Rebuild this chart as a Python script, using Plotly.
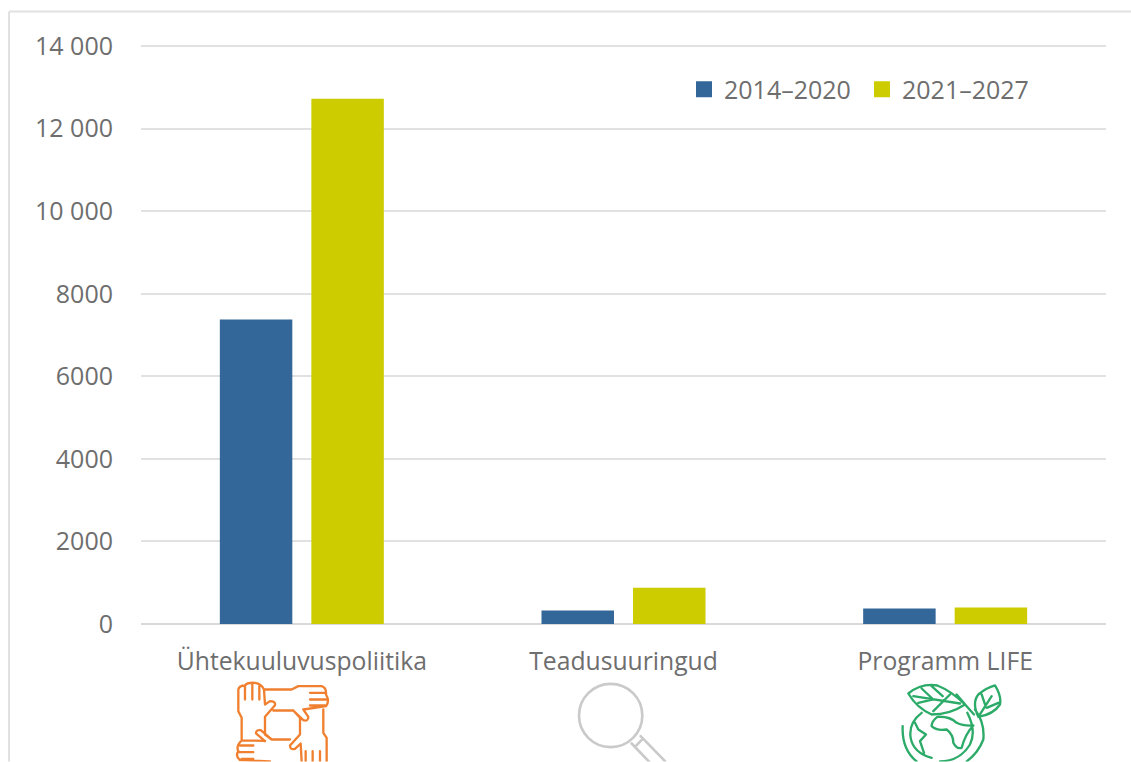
import base64
import plotly.graph_objects as go

categories = ["Ühtekuuluvuspoliitika", "Teadusuuringud", "Programm LIFE"]
series_names = ["2014–2020", "2021–2027"]
values_2014_2020 = [7375, 330, 375]
values_2021_2027 = [12725, 880, 400]
tick_values = [0, 2000, 4000, 6000, 8000, 10000, 12000, 14000]
tick_labels = ["0", "2000", "4000", "6000", "8000", "10 000", "12 000", "14 000"]
colors = ["#336699", "#CCCC00"]

W, H = 1131, 762
FONT = "Open Sans"
GREY = "#6E6E6E"
LINE = "#E1E1E1"

HANDS = """
M215 300L215 235L205 215L205 150Q208 138 225 138Q232 128 255 130Q275 133 282 150L285 195L300 185Q317 185 315 197L285 232L285 285L305 300
M225 140L225 180M247 132L247 180M268 140L268 180
M285 150L365 150L385 140L455 140Q470 145 468 165Q480 185 468 200L400 210L415 232Q415 247 400 242L370 213L310 213
M420 160L465 160M420 180L470 180M420 198L465 198
M460 210L460 280L470 295L470 366
M370 213L390 235L390 285L360 318Q360 332 375 328L392 312L395 366
M407 335L407 366M428 335L428 366M450 335L450 366
M305 300L360 300M285 305L258 282Q258 270 272 272L305 300
M285 304L215 303Q197 320 205 335Q195 350 210 362L300 366
M210 318L250 318M205 338L250 338M215 358L250 358
"""
GLOBE = """
M175 162Q215 130 262 138Q305 155 345 195Q300 225 245 225Q200 205 175 162Z
M190 170L330 192M215 147L250 180M205 190L250 180M250 215L300 165M245 140L278 170
M385 232Q365 190 385 165Q410 145 435 138Q455 170 450 195Q430 225 385 232Z
M385 232L425 170M395 165L405 195M410 205L445 190
M215 220Q175 250 182 295Q190 340 245 355
M270 366Q330 365 360 315Q380 275 352 220
M158 260Q155 330 200 366M375 210Q405 250 400 300Q385 340 350 366
M320 165L350 200L372 225
M262 232Q245 245 245 260Q260 275 290 270Q310 285 310 310Q320 330 335 325Q345 285 370 258Q340 260 320 250Q300 230 262 232Z
M195 250L205 270L228 285L210 305L222 340
"""
svg = f"""<svg xmlns="http://www.w3.org/2000/svg" width="{W}" height="{H}" viewBox="0 0 {W} {H}">
<g fill="none" stroke-linecap="round" stroke-linejoin="round" stroke-width="7">
<path transform="translate(170 640) scale(.3333)" stroke="#F08030" d="{HANDS}"/>
<g transform="translate(520 640) scale(.3333)" stroke="#CACACA" stroke-width="8">
<circle cx="272" cy="228" r="95"/><path d="M335 312L400 380M362 290L435 365M345 322L368 298"/></g>
<path transform="translate(850 640) scale(.3333)" stroke="#2BAA68" d="{GLOBE}"/>
</g></svg>"""
icon_uri = "data:image/svg+xml;base64," + base64.b64encode(svg.encode()).decode()

y_top = 14050  # just above the top tick so its gridline is kept
plot_l, plot_r, plot_b = 141, 1106, 624.5
plot_t = plot_b - 578 * y_top / 14000
plot_w, plot_h = plot_r - plot_l, plot_b - plot_t
px = lambda x: (x - plot_l) / plot_w
py = lambda y: (plot_b - y) / plot_h

fig = go.Figure()
for name, vals, col in zip(series_names, [values_2014_2020, values_2021_2027], colors):
    fig.add_bar(x=categories, y=vals, name=name, marker_color=col, marker_line_width=0,
                legendgroup=name, showlegend=False)
    # legend entry with the reference's larger square swatch
    fig.add_scatter(x=[None], y=[None], name=name, mode="markers", legendgroup=name,
                    marker=dict(symbol="square", size=16, color=col))

frame = dict(type="line", xref="paper", yref="paper", line=dict(color=LINE, width=2), layer="below")
fig.update_layout(
    width=W, height=H, autosize=False,
    margin=dict(l=plot_l, r=W - plot_r, t=plot_t, b=H - plot_b, pad=0),
    paper_bgcolor="white", plot_bgcolor="white",
    barmode="group", bargap=0.431, bargroupgap=0.208,
    font=dict(family=FONT, color=GREY, size=24.7),
    legend=dict(orientation="h", x=px(684), y=py(90), xanchor="left", yanchor="middle",
                font=dict(size=25, color=GREY), entrywidth=133, entrywidthmode="pixels",
                bgcolor="rgba(0,0,0,0)", itemclick=False, itemsizing="trace", traceorder="normal"),
    xaxis=dict(domain=[0, 1], showgrid=False, zeroline=False, showline=False, ticks="", automargin=False,
               categoryorder="array", categoryarray=categories,
               tickfont=dict(size=24.7, color=GREY), ticklabelstandoff=20),
    yaxis=dict(range=[0, y_top], tickvals=tick_values, ticktext=tick_labels, automargin=False,
               gridcolor=LINE, gridwidth=2, zeroline=True, zerolinecolor="#D9D9D9", zerolinewidth=2,
               showline=False, ticks="", tickfont=dict(size=25, color=GREY), ticklabelstandoff=27),
    shapes=[
        dict(frame, x0=px(9), x1=px(9), y0=py(12), y1=py(H)),
        dict(frame, x0=px(9), x1=px(W), y0=py(12), y1=py(12)),
    ],
    images=[dict(source=icon_uri, xref="paper", yref="paper", x=px(0), y=py(0), sizex=W / plot_w, sizey=H / plot_h,
                 xanchor="left", yanchor="top", sizing="stretch", layer="above")],
)
fig.write_html("out.html", post_script="document.body.style.margin='0';", config={"displayModeBar": False})
